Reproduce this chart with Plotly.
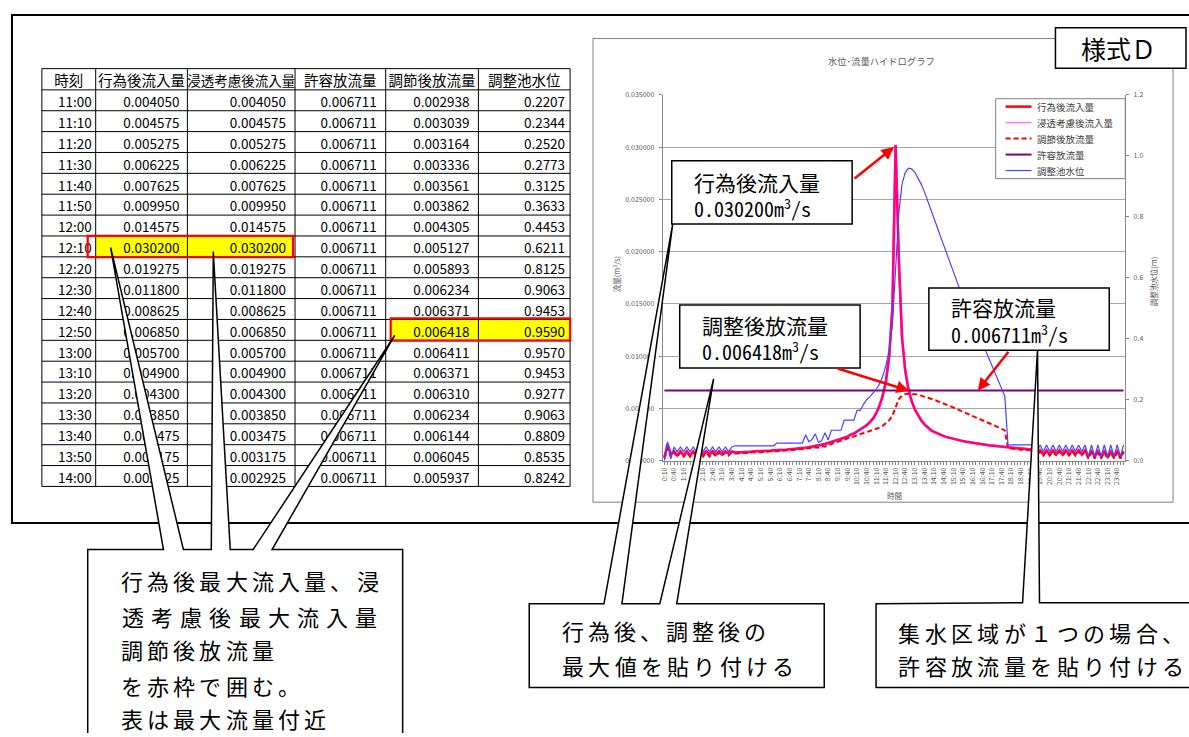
import plotly.graph_objects as go

W, H = 1189, 737
FONT = 'Noto Sans CJK JP'
MONO = 'Noto Sans Mono CJK JP, Liberation Mono, monospace'

# 10分ピッチ 0:10 - 24:00
times = [f'{m // 60}:{m % 60:02d}' for m in range(10, 1450, 10)]

# 行為後流入量 (m3/s)
q_in = [
    0.0003, 0.0016, 0.0006, 0.0009, 0.0005, 0.0009, 0.0005, 0.0009, 0.0005, 0.0009, 0.0006,
    0.0009, 0.0006, 0.0009, 0.0006, 0.0009, 0.0006, 0.0009, 0.0006, 0.0009, 0.0007, 0.0009,
    0.0008, 0.0008, 0.0008, 0.00085, 0.00085, 0.00085, 0.0009, 0.0009, 0.0009, 0.00095, 0.00095,
    0.00095, 0.001, 0.001, 0.001, 0.00105, 0.00105, 0.0011, 0.0011, 0.00115, 0.0012, 0.0012,
    0.00125, 0.0013, 0.00135, 0.0014, 0.00145, 0.0015, 0.0016, 0.0017, 0.0018, 0.0019, 0.002,
    0.0021, 0.0022, 0.0023, 0.0025, 0.0026, 0.0028, 0.003, 0.0032, 0.0034, 0.0037,
    0.004050, 0.004575, 0.005275, 0.006225, 0.007625, 0.009950, 0.014575, 0.030200, 0.019275,
    0.011800, 0.008625, 0.006850, 0.005700, 0.004900, 0.004300, 0.003850, 0.003475, 0.003175,
    0.002925,
    0.00275, 0.0026, 0.00247, 0.00236, 0.00226, 0.00217, 0.00209, 0.00201, 0.00194, 0.00188,
    0.00182, 0.00176, 0.00171, 0.00166, 0.00161, 0.00157, 0.00153, 0.00149, 0.00145, 0.00141,
    0.00138, 0.00135, 0.00132, 0.00129, 0.00126, 0.00123, 0.0012, 0.00117, 0.00114, 0.00111,
    0.00108, 0.00105,
    0.0006, 0.001, 0.0006, 0.001, 0.0006, 0.001, 0.0006, 0.001, 0.0006, 0.001, 0.0006, 0.001,
    0.0006, 0.001, 0.0006, 0.001,
    0.0004, 0.0009, 0.0004, 0.0009, 0.0004, 0.0009, 0.0004, 0.0009, 0.0004, 0.0009, 0.0004, 0.0009,
]
# 浸透考慮後流入量 (同値)
q_inf = list(q_in)

# 調節後放流量
q_out = [
    0.0002, 0.0012, 0.0004, 0.0008, 0.0004, 0.0008, 0.0004, 0.0008, 0.0004, 0.0008, 0.0004,
    0.0008, 0.0004, 0.0008, 0.0004, 0.0008, 0.0004, 0.0008, 0.0005, 0.0008, 0.0005, 0.0008,
    0.0007, 0.0007, 0.00075, 0.00075, 0.00075, 0.0008, 0.0008, 0.0008, 0.00085, 0.00085, 0.00085,
    0.0009, 0.0009, 0.0009, 0.00095, 0.00095, 0.001, 0.001, 0.00105, 0.00105, 0.0011, 0.0011,
    0.00115, 0.0012, 0.00118, 0.0013, 0.00125, 0.0014, 0.00135, 0.0015, 0.0016, 0.0017, 0.0018,
    0.0019, 0.002, 0.0021, 0.0022, 0.0023, 0.0024, 0.0025, 0.0026, 0.0027, 0.0028,
    0.002938, 0.003039, 0.003164, 0.003336, 0.003561, 0.003862, 0.004305, 0.005127, 0.005893,
    0.006234, 0.006371, 0.006418, 0.006411, 0.006371, 0.006310, 0.006234, 0.006144, 0.006045,
    0.005937,
    0.00583, 0.00572, 0.0056, 0.00548, 0.00535, 0.00522, 0.00509, 0.00496, 0.00483, 0.0047,
    0.00457, 0.00444, 0.00431, 0.00418, 0.00405, 0.00392, 0.00378, 0.00364, 0.0035, 0.00336,
    0.0032, 0.00305, 0.0029,
    0.0012, 0.00115, 0.0011, 0.00108, 0.00106, 0.00104, 0.00102, 0.001, 0.00098,
    0.0005, 0.0009, 0.0005, 0.0009, 0.0005, 0.0009, 0.0005, 0.0009, 0.0005, 0.0009, 0.0005, 0.0009,
    0.0005, 0.0009, 0.0005, 0.0009,
    0.0002, 0.0008, 0.0002, 0.0008, 0.0002, 0.0008, 0.0002, 0.0008, 0.0002, 0.0008, 0.0002, 0.0008,
]

# 許容放流量
q_allow = [0.006711] * len(times)

# 調整池水位 (m)
level = [
    0.0, 0.062, 0.005, 0.045, 0.03, 0.045, 0.03, 0.045, 0.03, 0.045, 0.03,
    0.045, 0.03, 0.045, 0.03, 0.045, 0.03, 0.045, 0.03, 0.045, 0.03, 0.045,
    0.049, 0.049, 0.049, 0.049, 0.049, 0.049, 0.049, 0.049, 0.049, 0.049, 0.049, 0.049, 0.049,
    0.058, 0.058, 0.058, 0.058, 0.058, 0.058, 0.058, 0.058, 0.058,
    0.085, 0.062, 0.07, 0.088, 0.06, 0.066, 0.092, 0.068,
    0.1, 0.1, 0.1, 0.1, 0.133, 0.133, 0.133, 0.133, 0.165, 0.165, 0.185, 0.2, 0.21,
    0.2207, 0.2344, 0.2520, 0.2773, 0.3125, 0.3633, 0.4453, 0.6211, 0.8125, 0.9063,
    0.9453, 0.9590, 0.9570, 0.9453, 0.9277, 0.9063, 0.8809, 0.8535, 0.8242,
    0.795, 0.765, 0.735, 0.705, 0.676, 0.647, 0.618, 0.590, 0.562, 0.537, 0.512, 0.487,
    0.462, 0.437, 0.412, 0.387, 0.362, 0.337, 0.312, 0.287, 0.262, 0.237, 0.212,
    0.052, 0.052, 0.052, 0.052, 0.052, 0.052, 0.052, 0.052, 0.052,
    0.03, 0.052, 0.03, 0.052, 0.03, 0.052, 0.03, 0.052, 0.03, 0.052, 0.03, 0.052,
    0.03, 0.052, 0.03, 0.052,
    0.014, 0.052, 0.014, 0.052, 0.014, 0.052, 0.014, 0.052, 0.014, 0.052, 0.014, 0.052,
]

q_ticks = [0, 0.005, 0.010, 0.015, 0.020, 0.025, 0.030, 0.035]
lv_ticks = [0, 0.2, 0.4, 0.6, 0.8, 1.0, 1.2]

headers = ['時刻', '行為後流入量', '浸透考慮後流入量', '許容放流量', '調節後放流量', '調整池水位']
t0, t1 = times.index('11:00'), times.index('14:00') + 1
mark_in, mark_out = times.index('12:10') - t0, times.index('12:50') - t0

series = [
    ('行為後流入量', q_in, 'y', dict(color='#FF0000', width=2.5)),
    ('浸透考慮後流入量', q_inf, 'y', dict(color='rgba(255,0,255,0.55)', width=2.5)),
    ('調節後放流量', q_out, 'y', dict(color='#FF0000', width=2, dash='5px,3px')),
    ('許容放流量', q_allow, 'y', dict(color='#800080', width=2)),
    ('調整池水位', level, 'y3', dict(color='#4444FF', width=1.2)),
]

fig = go.Figure()

# ---- hydrograph ----
for name, vals, yax, line in series:
    fig.add_trace(go.Scatter(x=times, y=vals, name=name, mode='lines', yaxis=yax, line=line,
                             showlegend=False))

# ---- table (canvas axes x2/y2 in pixels) ----
col_x = [38, 92, 184, 292, 383, 476, 568]
right_pad = [4, 8, 9, 9, 9, 5]
row_top = [85 + 21.16 * r for r in range(t1 - t0)]
row_y = [y + 14 for y in row_top]

table_cols = [
    times[t0:t1],
    [f'{v:.6f}' for v in q_in[t0:t1]],
    [f'{v:.6f}' for v in q_inf[t0:t1]],
    [f'{v:.6f}' for v in q_allow[t0:t1]],
    [f'{v:.6f}' for v in q_out[t0:t1]],
    [f'{v:.4f}' for v in level[t0:t1]],
]
for c, col in enumerate(table_cols):
    fig.add_trace(go.Scatter(x=[col_x[c + 1] - right_pad[c]] * len(col), y=row_y, text=col,
                             mode='text', textposition='middle left',
                             textfont=dict(family=FONT, size=13.5, color='#000000'),
                             xaxis='x2', yaxis='y2', showlegend=False, hoverinfo='skip'))
fig.add_trace(go.Scatter(x=[(col_x[i] + col_x[i + 1]) / 2 for i in range(6)], y=[77.5] * 6,
                         text=headers, mode='text', textposition='middle center',
                         textfont=dict(family=FONT, size=[14.5, 14.5, 13.5, 14.5, 14.5, 14.5],
                                       color='#000000'),
                         xaxis='x2', yaxis='y2', showlegend=False, hoverinfo='skip'))


def box(x0, y0, x1, y1, **kw):
    d = dict(type='rect', xref='x2', yref='y2', x0=x0, y0=y0, x1=x1, y1=y1, layer='above')
    d.update(kw)
    return d


def poly(pts):
    p = 'M' + 'L'.join(f'{x},{y}' for x, y in pts) + 'Z'
    return dict(type='path', path=p, xref='x2', yref='y2', layer='above',
                fillcolor='white', line=dict(color='black', width=1.5))


edges = [63.5] + [85 + 21.16 * k for k in range(t1 - t0 + 1)]
grid = ''.join(f'M{col_x[0]},{y}L{col_x[-1]},{y}' for y in edges)
grid += ''.join(f'M{x},{edges[0]}L{x},{edges[-1]}' for x in col_x)

ri, ro = row_top[mark_in], row_top[mark_out]
shapes = [
    box(92, ri, 290, ri + 21.16, fillcolor='#FFFF00', line=dict(width=0), layer='below'),
    box(388, ro, 568, ro + 21.16, fillcolor='#FFFF00', line=dict(width=0), layer='below'),
    dict(type='path', path=grid, xref='x2', yref='y2', layer='above',
         line=dict(color='black', width=1)),
    box(84, ri, 290, ri + 21.6, line=dict(color='#FF0000', width=2.2)),
    box(388, ro - 1, 568, ro + 21.4, line=dict(color='#FF0000', width=2.2)),
    box(8, 9, 1210, 524, line=dict(color='black', width=2)),
    box(591, 33, 1173, 503, line=dict(color='#808080', width=1)),
    # legend frame
    box(995, 94, 1125, 175, fillcolor='white', line=dict(color='#808080', width=1)),
]

annots = []


def note(x, y, text, size, color='#000000', family=FONT, xanchor='left', angle=0):
    annots.append(dict(x=x, y=y, xref='x2', yref='y2', text=text, showarrow=False,
                       xanchor=xanchor, yanchor='middle', textangle=angle,
                       font=dict(family=family, size=size, color=color)))


# legend entries
for k, (name, vals, yax, line) in enumerate(series):
    ly = 102 + 16.2 * k
    lw = dict(line)
    if k == 1:
        lw['width'] = 1.5
    shapes.append(dict(type='line', xref='x2', yref='y2', x0=1005, x1=1031, y0=ly, y1=ly,
                       layer='above', line=lw))
    note(1034, ly, name, 9.5, '#404040')

shapes += [
    box(1055, 22, 1186, 63, fillcolor='white', line=dict(color='black', width=1.5)),
    box(670, 157, 851, 221, fillcolor='white', line=dict(color='black', width=1.5)),
    box(678, 303, 859, 367, fillcolor='white', line=dict(color='black', width=1.5)),
    box(928, 286, 1109, 349, fillcolor='white', line=dict(color='black', width=1.5)),
    poly([(84, 551), (160, 551), (107, 245), (180, 551), (208, 551), (210, 249), (227, 551),
          (250, 551), (392, 334), (269, 551), (400, 551), (400, 745), (84, 745)]),
    poly([(527, 606), (602, 606), (671, 221), (620, 606), (658, 606), (712, 378), (675, 606),
          (823, 606), (823, 691), (527, 691)]),
    poly([(875, 606), (1022, 605), (1037, 349), (1039, 605), (1200, 605), (1200, 691),
          (875, 691)]),
]


def spaced(text, x0, y, pitch, size=22):
    for i, ch in enumerate(text):
        note(x0 + pitch * (i + 0.5), y, ch, size, xanchor='center')


def arrow(x, y, ax, ay):
    annots.append(dict(x=x, y=y, ax=ax, ay=ay, xref='x2', yref='y2', axref='x2', ayref='y2',
                       text='', showarrow=True, arrowhead=2, arrowsize=1, arrowwidth=2.5,
                       arrowcolor='#FF0000', standoff=0))


# chart texts
note(880, 56, '水位･流量ハイドログラフ', 9.3, '#595959', xanchor='center')
note(614, 272, '流量(m<sup>3</sup>/s)', 7.5, '#595959', xanchor='center', angle=-90)
note(1153, 279, '調整池水位(m)', 7.5, '#595959', xanchor='center', angle=-90)
note(894, 496, '時間', 7.5, '#595959', xanchor='center')
note(1118, 43, '様式Ｄ', 25, xanchor='center')

# value callouts
note(690, 178, '行為後流入量', 21)
note(690, 205, f'{max(q_in):.6f}m<sup>3</sup>/s', 20, family=MONO)
note(698, 323, '調整後放流量', 21)
note(698, 350, f'{max(q_out):.6f}m<sup>3</sup>/s', 20, family=MONO)
note(948, 305, '許容放流量', 21)
note(948, 332, f'{q_allow[0]:.6f}m<sup>3</sup>/s', 20, family=MONO)
arrow(893, 143, 852, 176)
arrow(908, 390, 835, 367)
arrow(977, 390, 1009, 349)

# bottom callouts
spaced('行為後最大流入量、浸', 115, 582, 26.3)
spaced('透考慮後最大流入量', 115, 618, 29.2)
spaced('調節後放流量', 115, 652, 26.3)
spaced('を赤枠で囲む。', 115, 688, 26.3)
spaced('表は最大流量付近', 115, 722, 26.3)
spaced('行為後、調整後の', 558, 633, 26.1)
spaced('最大値を貼り付ける', 558, 668, 26.3)
spaced('集水区域が１つの場合、', 895, 635, 26.5)
spaced('許容放流量を貼り付ける', 895, 668, 26.5)

axis_grey = '#868686'
tick_font = dict(family=FONT, size=7, color='#595959')
fig.update_layout(
    width=W, height=H, autosize=False,
    margin=dict(l=0, r=0, t=0, b=0),
    paper_bgcolor='white', plot_bgcolor='rgba(0,0,0,0)',
    font=dict(family=FONT, color='#000000'),
    showlegend=False,
    xaxis=dict(domain=[661 / W, 1125 / W], anchor='y', type='category', range=[-0.5, 143.5],
               tickmode='array', tickvals=times,
               ticktext=[t if i % 3 == 0 else '' for i, t in enumerate(times)],
               tickangle=-90, tickfont=tick_font, ticks='outside', ticklen=3,
               tickcolor=axis_grey, showline=True, linecolor=axis_grey, showgrid=False),
    yaxis=dict(domain=[1 - 461 / H, 1 - 90 / H], anchor='x', range=[0, 0.035],
               tickmode='array', tickvals=q_ticks, tickformat='.6f', tickfont=tick_font,
               ticks='outside', ticklen=3, tickcolor=axis_grey, ticklabelstandoff=3,
               showline=True, linecolor=axis_grey, gridcolor='#A6A6A6', gridwidth=1.2,
               zeroline=False),
    yaxis3=dict(overlaying='y', side='right', anchor='x', range=[0, 1.2],
                tickmode='array', tickvals=lv_ticks, tickformat='.1f', tickfont=tick_font,
                ticks='outside', ticklen=3, tickcolor=axis_grey, ticklabelstandoff=3,
                showline=True, linecolor=axis_grey, showgrid=False, zeroline=False),
    xaxis2=dict(domain=[0, 1], range=[0, W], visible=False, anchor='y2', fixedrange=True),
    yaxis2=dict(domain=[0, 1], range=[H, 0], visible=False, anchor='x2', fixedrange=True),
    shapes=shapes,
    annotations=annots,
)

# body margin 0 so the figure sits at the window origin
fig.write_html('out.html', config={'displayModeBar': False},
               post_script="document.body.style.margin='0';")
